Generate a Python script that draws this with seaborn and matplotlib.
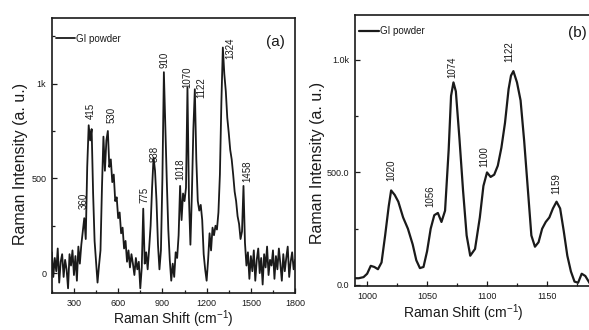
import numpy as np
import matplotlib.pyplot as plt
import seaborn as sns
from matplotlib.ticker import MultipleLocator

# ---- panel (a): full Raman spectrum, sampled every 10 cm-1 from 150 to 1800
shift_a = np.arange(150, 1801, 10)
intensity_a = [
    110, -20, 80, 10, 130, -50, 60, 100, -20, 70,        # 150-240
    20, -80, 100, 40, 120, -10, 90, -40, 140, 50,        # 250-340
    150, 220, 290, 180, 560, 780, 700, 760, 420, 170,    # 350-440
    60, -50, 40, 120, 450, 720, 540, 700, 750, 560,      # 450-540
    600, 480, 520, 380, 400, 290, 320, 210, 240, 130,    # 550-640
    170, 60, 120, 30, 100, 50, -10, 80, 20, 60,          # 650-740
    -80, 30, 340, 50, 110, 20, 130, 250, 450, 610,       # 750-840
    540, 380, 150, 20, 120, 500, 1060, 760, 480, 230,    # 850-940
    70, -40, 50, -20, 110, 80, 200, 460, 280, 420,       # 950-1040
    380, 450, 980, 400, 150, 420, 760, 970, 600, 380,    # 1050-1140
    330, 360, 280, 100, 20, -40, 70, 210, 120, 240,      # 1150-1240
    200, 250, 230, 320, 520, 900, 1190, 1050, 960, 820,  # 1250-1340
    740, 650, 600, 520, 430, 380, 300, 260, 180, 220,    # 1350-1440
    460, 160, 40, 110, -30, 90, 10, 120, -40, 70,        # 1450-1540
    130, 0, 80, -60, 100, 30, 140, -10, 70, 40,          # 1550-1640
    120, -30, 90, 20, 130, 50, -40, 100, 10, 80,         # 1650-1740
    140, -20, 60, 110, 20, 70,                           # 1750-1800
]
peak_labels_a = ['360', '415', '530', '775', '838', '910', '1018', '1070', '1122', '1324', '1458']
peak_x_a = [368, 413, 556, 776, 844, 912, 1021, 1068, 1164, 1361, 1476]
peak_y_a = [340, 815, 790, 368, 584, 1084, 489, 979, 926, 1131, 480]

# ---- panel (b): zoom on 990-1190 cm-1
shift_b = [988, 993, 997, 1000, 1003, 1006, 1009, 1012, 1015, 1018,
           1020, 1023, 1026, 1030, 1034, 1038, 1041, 1044, 1047, 1050,
           1053, 1056, 1059, 1062, 1065, 1068, 1070, 1072, 1074, 1077,
           1080, 1083, 1086, 1090, 1094, 1097, 1100, 1103, 1106, 1109,
           1112, 1115, 1118, 1120, 1122, 1125, 1128, 1131, 1134, 1137,
           1140, 1143, 1146, 1149, 1152, 1155, 1158, 1161, 1164, 1167,
           1170, 1173, 1176, 1179, 1182, 1186, 1190]
intensity_b = [30, 30, 35, 50, 85, 80, 70, 100, 220, 350,
               420, 400, 370, 300, 250, 180, 110, 75, 80, 150,
               250, 310, 320, 280, 330, 600, 840, 900, 860, 650,
               420, 220, 130, 160, 300, 440, 500, 480, 490, 530,
               610, 720, 870, 930, 950, 900, 820, 640, 430, 220,
               170, 190, 250, 280, 300, 340, 370, 340, 240, 130,
               60, 15, 10, 50, 40, 5, 0]
peak_labels_b = ['1020', '1056', '1074', '1100', '1122', '1159']
peak_x_b = [1020, 1053, 1071, 1098, 1119, 1158]
peak_y_b = [460, 345, 920, 526, 990, 402]

sns.set_theme(style="ticks")
plt.rcParams['font.family'] = ['Liberation Sans', 'DejaVu Sans']
plt.rcParams['mathtext.fontset'] = 'custom'
plt.rcParams['mathtext.rm'] = 'Liberation Sans'
ink = '#1a1a1a'

fig = plt.figure(figsize=(5.89, 3.30), dpi=100)
ax_a = fig.add_axes([0.088, 0.112, 0.413, 0.833])
ax_b = fig.add_axes([0.603, 0.133, 0.407, 0.822])

sns.lineplot(x=shift_a, y=intensity_a, ax=ax_a, color=ink, lw=1.3,
             estimator=None, label='GI powder')
sns.lineplot(x=shift_b, y=intensity_b, ax=ax_b, color=ink, lw=1.6,
             estimator=None, label='GI powder')

for lab, px, py in zip(peak_labels_a, peak_x_a, peak_y_a):
    ax_a.text(px, py, lab, rotation=90, ha='center', va='bottom', fontsize=7, color=ink)
for lab, px, py in zip(peak_labels_b, peak_x_b, peak_y_b):
    ax_b.text(px, py, lab, rotation=90, ha='center', va='bottom', fontsize=7, color=ink)

# axes ranges and ticks
ax_a.set_xlim(150, 1800)
ax_a.set_ylim(-105, 1345)
ax_a.set_xticks([300, 600, 900, 1200, 1500, 1800])
ax_a.set_yticks([0, 500, 1000], ['0', '500', '1k'])
ax_a.xaxis.set_minor_locator(MultipleLocator(150))
ax_a.yaxis.set_minor_locator(MultipleLocator(250))

ax_b.set_xlim(990, 1190)
ax_b.set_ylim(-5, 1200)
ax_b.set_xticks([1000, 1050, 1100, 1150])
ax_b.set_yticks([0, 500, 1000], ['0.0', '500.0', '1.0k'])
ax_b.xaxis.set_minor_locator(MultipleLocator(25))
ax_b.yaxis.set_minor_locator(MultipleLocator(250))

for ax, tag, tx, ty in [(ax_a, '(a)', 0.918, 0.913), (ax_b, '(b)', 0.925, 0.934)]:
    ax.tick_params(which='both', direction='in', labelsize=6.5, colors=ink, width=0.9)
    ax.tick_params(which='major', length=3.5, pad=4)
    ax.tick_params(which='minor', length=2)
    for sp in ax.spines.values():
        sp.set_linewidth(1.2)
        sp.set_color(ink)
    ax.set_xlabel(r'Raman Shift (cm$^{\mathregular{-1}}$)', fontsize=10, color=ink)
    ax.set_ylabel('Raman Intensity (a. u.)', fontsize=11.5, color=ink)
    ax.text(tx, ty, tag, transform=ax.transAxes, ha='center', va='center',
            fontsize=11, color=ink)

ax_a.legend(loc='upper left', bbox_to_anchor=(-0.02, 0.975), frameon=False,
            fontsize=7, handlelength=2.0, handletextpad=0.1, labelcolor=ink)
ax_b.legend(loc='upper left', bbox_to_anchor=(-0.02, 0.99), frameon=False,
            fontsize=7, handlelength=2.0, handletextpad=0.1, labelcolor=ink)

ax_a.xaxis.set_label_coords(0.5, -0.055)
ax_a.yaxis.set_label_coords(-0.1, 0.47)
ax_b.xaxis.set_label_coords(0.45, -0.06)
ax_b.yaxis.set_label_coords(-0.125, 0.454)

fig.savefig('out.png', dpi=100)
